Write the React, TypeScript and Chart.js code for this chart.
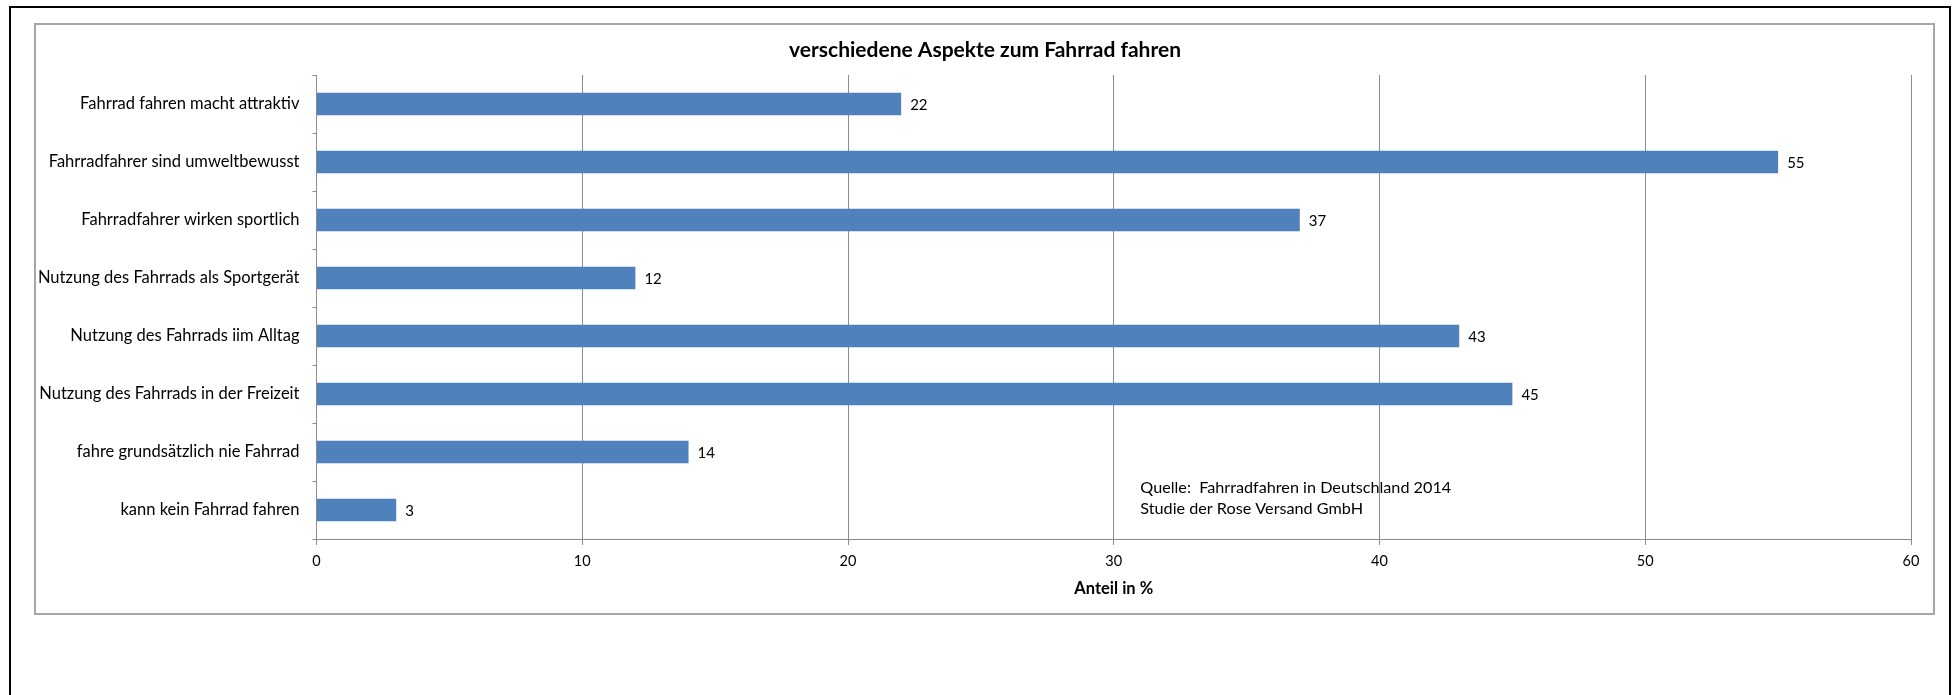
import React, { useEffect, useRef } from "react";
import { Chart, registerables } from "chart.js";

Chart.register(...registerables);

const titleText = "verschiedene Aspekte zum Fahrrad fahren";
const categories = [
  "Fahrrad fahren macht attraktiv",
  "Fahrradfahrer sind umweltbewusst",
  "Fahrradfahrer wirken sportlich",
  "Nutzung des Fahrrads als Sportgerät",
  "Nutzung des Fahrrads iim Alltag",
  "Nutzung des Fahrrads in der Freizeit",
  "fahre grundsätzlich nie Fahrrad",
  "kann kein Fahrrad fahren",
];
const values = [22, 55, 37, 12, 43, 45, 14, 3];
const xAxisTitle = "Anteil in %";
const sourceLines = [
  "Quelle:  Fahrradfahren in Deutschland 2014",
  "Studie der Rose Versand GmbH",
];

const FONT = "Lato, 'Open Sans', 'DejaVu Sans', sans-serif";
const GRID = "#8c8c8c";

export default function App() {
  const ref = useRef<HTMLCanvasElement | null>(null);

  useEffect(() => {
    const canvas = ref.current;
    if (!canvas) return;

    const chartTitle = {
      id: "chartTitle",
      afterDraw(chart: any) {
        const ctx = chart.ctx;
        ctx.save();
        ctx.font = `bold 21px ${FONT}`;
        ctx.fillStyle = "#000";
        ctx.textAlign = "center";
        ctx.textBaseline = "middle";
        ctx.fillText(titleText, chart.width / 2, 26);
        ctx.restore();
      },
    };

    const dataLabels = {
      id: "dataLabels",
      afterDatasetsDraw(chart: any) {
        const ctx = chart.ctx;
        const meta = chart.getDatasetMeta(0);
        ctx.save();
        ctx.font = `15px ${FONT}`;
        ctx.fillStyle = "#000";
        ctx.textAlign = "left";
        ctx.textBaseline = "middle";
        meta.data.forEach((bar: any, i: number) => {
          ctx.fillText(String(values[i]), bar.x + 9, bar.y + 1);
        });
        ctx.restore();
      },
    };

    const sourceNote = {
      id: "sourceNote",
      afterDraw(chart: any) {
        const ctx = chart.ctx;
        const xs = chart.scales.x;
        const ys = chart.scales.y;
        ctx.save();
        ctx.font = `16.2px ${FONT}`;
        ctx.fillStyle = "#000";
        ctx.textAlign = "left";
        ctx.textBaseline = "middle";
        const x0 = xs.getPixelForValue(31.0);
        const y0 = ys.getPixelForValue(7) - 22;
        sourceLines.forEach((l, i) => ctx.fillText(l, x0, y0 + i * 21));
        ctx.restore();
      },
    };

    const chart = new Chart(canvas, {
      type: "bar",
      data: {
        labels: categories,
        datasets: [
          {
            data: values,
            backgroundColor: "#4F81BD",
            borderWidth: 0,
            barPercentage: 0.385,
            categoryPercentage: 1,
          },
        ],
      },
      options: {
        indexAxis: "y",
        responsive: false,
        animation: false,
        layout: { padding: { left: 0, right: 24, top: 51, bottom: 13 } },
        plugins: {
          legend: { display: false },
          tooltip: { enabled: false },
          title: { display: false },
        },
        scales: {
          x: {
            min: 0,
            max: 60,
            afterFit(scale: any) {
              scale.height = 62;
            },
            ticks: {
              stepSize: 10,
              color: "#000",
              font: { family: FONT, size: 14.5, lineHeight: 1.2 },
              padding: 8,
              maxRotation: 0,
            },
            grid: {
              color: GRID,
              lineWidth: 1,
              drawTicks: true,
              tickLength: 6,
              tickColor: GRID,
            },
            border: { display: true, color: GRID, width: 1 },
            title: {
              display: true,
              text: xAxisTitle,
              color: "#000",
              font: { family: FONT, size: 16.5, weight: "bold", lineHeight: 1.2 },
              padding: { top: 6, bottom: 2.5 },
            },
          },
          y: {
            afterFit(scale: any) {
              scale.width = 281.5;
            },
            ticks: {
              color: "#000",
              font: { family: FONT, size: 16.5, lineHeight: 1.2 },
              padding: 13,
              autoSkip: false,
            },
            grid: {
              offset: true,
              drawOnChartArea: false,
              drawTicks: true,
              tickLength: 4,
              tickColor: GRID,
              color: GRID,
            },
            border: { display: true, color: GRID, width: 1 },
          },
        },
      },
      plugins: [chartTitle, dataLabels, sourceNote],
    } as any);

    return () => chart.destroy();
  }, []);

  return (
    <div
      style={{
        position: "fixed",
        left: 0,
        top: 0,
        width: 1954,
        height: 695,
        background: "#fff",
        overflow: "hidden",
      }}
    >
      <div
        style={{
          position: "absolute",
          left: 9,
          top: 6,
          width: 1942,
          height: 800,
          border: "2px solid #000",
          boxSizing: "border-box",
        }}
      />
      <div
        style={{
          position: "absolute",
          left: 34,
          top: 23,
          width: 1901,
          height: 592,
          border: "2px solid #a6a6a6",
          boxSizing: "border-box",
        }}
      />
      <canvas
        ref={ref}
        width={1900}
        height={590}
        style={{ position: "absolute", left: 35, top: 24, width: 1900, height: 590 }}
      />
    </div>
  );
}
